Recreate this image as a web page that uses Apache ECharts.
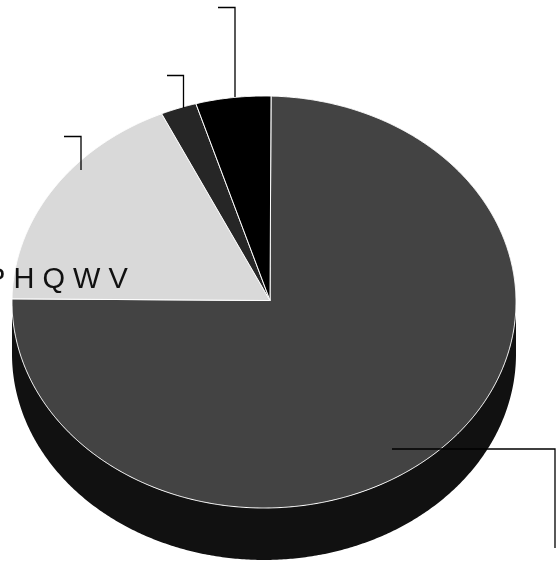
<!DOCTYPE html>
<html><head><meta charset="utf-8">
<style>html,body{margin:0;padding:0;background:#fff}#c{width:558px;height:562px}</style>
<script src="https://cdn.jsdelivr.net/npm/echarts@6/dist/echarts.min.js"></script>
</head><body><div id="c"></div>
<script>
// Data, clockwise from the top of the pie
const categories = ['A', 'B', 'C', 'D'];
const values = [74.8, 18.1, 2.3, 4.8];
const sliceColors = ['#434343', '#d9d9d9', '#262626', '#000000'];
const labelText = 'P H Q W V';

// Layout
const cx = 264, cy = 302, rx = 252, ry = 206, depth = 52;
const apex = [270, 300.5];
const startDeg = 1.6;
const sideColor = '#111111';
const leaders = [
  [[218, 7.5], [235, 7.5], [235, 97]],
  [[167, 75.5], [183.5, 75.5], [183.5, 108]],
  [[64, 136.5], [81, 136.5], [81, 170]],
  [[392, 449], [555, 449], [555, 548]]
];

const total = values.reduce((a, b) => a + b, 0);
function rim(deg, dy) {
  const t = deg * Math.PI / 180;
  return [cx + rx * Math.sin(t), cy + (dy || 0) - ry * Math.cos(t)];
}
function renderSide() {
  const pts = [];
  for (let d = 90; d <= 270; d += 0.5) pts.push(rim(d, 0));
  for (let d = 270; d >= 90; d -= 0.5) pts.push(rim(d, depth));
  return { type: 'polygon', shape: { points: pts }, style: { fill: sideColor } };
}
function renderSlice(params, api) {
  let before = 0;
  for (let i = 0; i < params.dataIndex; i++) before += values[i];
  const a0 = startDeg + before / total * 360;
  const a1 = a0 + api.value(0) / total * 360;
  const pts = [apex];
  for (let d = a0; d < a1; d += 0.25) pts.push(rim(d));
  pts.push(rim(a1));
  return {
    type: 'polygon',
    shape: { points: pts },
    style: { fill: sliceColors[params.dataIndex], stroke: '#ffffff', lineWidth: 1, lineJoin: 'round' }
  };
}

const chart = echarts.init(document.getElementById('c'), null, { renderer: 'canvas' });
chart.setOption({
  animation: false,
  backgroundColor: '#ffffff',
  tooltip: { show: false },
  series: [
    { type: 'custom', coordinateSystem: 'none', silent: true, z: 1, renderItem: renderSide, data: [[0]] },
    { type: 'custom', coordinateSystem: 'none', silent: true, z: 2, renderItem: renderSlice,
      data: values.map((v, i) => ({ name: categories[i], value: [v] })) }
  ],
  graphic: {
    elements: leaders.map(points => ({
      type: 'polyline', z: 10, silent: true,
      shape: { points },
      style: { fill: null, stroke: '#000000', lineWidth: 1.3 }
    })).concat([{
      type: 'text', z: 11, silent: true, x: -14, y: 265,
      style: { text: labelText, fontFamily: '"Liberation Sans"', fontSize: 29, fill: '#111111', verticalAlign: 'top' }
    }])
  }
});
</script></body></html>
